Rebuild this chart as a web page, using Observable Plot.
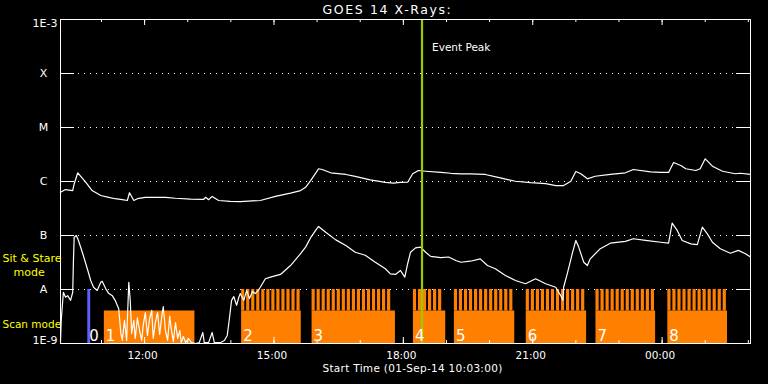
<!DOCTYPE html>
<html>
<head>
<meta charset="utf-8">
<script src="https://cdn.jsdelivr.net/npm/d3@7"></script>
<script src="https://cdn.jsdelivr.net/npm/@observablehq/plot@0.6"></script>
<style>
  html, body { margin: 0; padding: 0; background: #000; }
  svg { display: block; }
</style>
</head>
<body>
<script>
// ---- Data (times are UT clock times, 01-Sep-14 10:03 -> 02-Sep-14 02:03) ----
const startTime = "10:03";
const endTime = "02:03";
const chartTitle = "GOES 14 X-Rays:";
const xTitle = "Start Time (01-Sep-14 10:03:00)";

// GOES long channel (1-8 A), W/m^2
const longChannel = [
  ["10:03",6.3e-7],["10:10",7.1e-7],["10:20",6.8e-7],["10:22",9.0e-7],["10:27",1.45e-6],
  ["10:38",9.7e-7],["10:47",6.8e-7],["10:59",5.5e-7],["11:10",5.1e-7],["11:19",4.8e-7],
  ["11:29",4.6e-7],["11:36",4.45e-7],["11:39",6.2e-7],["11:45",4.45e-7],["11:50",4.8e-7],
  ["12:01",5.1e-7],["12:29",5.1e-7],["12:43",4.9e-7],["13:04",4.7e-7],["13:22",4.65e-7],
  ["13:25",5.1e-7],["13:29",4.6e-7],["13:34",5.3e-7],["13:43",4.45e-7],["13:59",4.3e-7],
  ["14:13",4.25e-7],["14:41",4.45e-7],["15:02",5.3e-7],["15:23",6.1e-7],["15:37",6.8e-7],
  ["15:44",7.8e-7],["15:51",1.04e-6],["15:59",1.49e-6],["16:02",1.72e-6],["16:07",1.67e-6],
  ["16:19",1.45e-6],["16:40",1.35e-6],["16:53",1.24e-6],["17:14",1.07e-6],["17:35",9.6e-7],
  ["17:46",9.3e-7],["17:56",9.6e-7],["18:06",9.7e-7],["18:13",1.39e-6],["18:21",1.6e-6],
  ["18:31",1.55e-6],["18:52",1.47e-6],["19:06",1.42e-6],["19:20",1.39e-6],["19:33",1.39e-6],
  ["19:54",1.35e-6],["20:15",1.17e-6],["20:36",1.01e-6],["20:57",9.5e-7],["21:18",9.1e-7],
  ["21:32",8.4e-7],["21:43",8.4e-7],["21:53",1.01e-6],["22:00",1.53e-6],["22:07",1.39e-6],
  ["22:16",1.12e-6],["22:27",1.25e-6],["22:48",1.36e-6],["23:09",1.45e-6],["23:20",1.67e-6],
  ["23:44",1.51e-6],["23:58",1.47e-6],["00:09",1.47e-6],["00:16",2.25e-6],["00:26",1.98e-6],
  ["00:33",1.72e-6],["00:47",1.6e-6],["00:53",1.72e-6],["01:00",2.63e-6],["01:10",1.92e-6],
  ["01:24",1.55e-6],["01:42",1.39e-6],["01:49",1.42e-6],["02:03",1.35e-6]
];

// GOES short channel (0.5-4 A), W/m^2
const shortChannel = [
  ["10:03",1.06e-9],["10:04",2.67e-9],["10:07",8.9e-9],["10:10",7.2e-9],["10:13",7.7e-9],
  ["10:17",6.3e-9],["10:20",8.9e-9],["10:21",3.44e-8],["10:22",9.3e-8],["10:25",1.0e-7],
  ["10:28",8.1e-8],["10:34",4.6e-8],["10:41",2.25e-8],["10:45",1.47e-8],["10:49",1.1e-8],
  ["10:54",9.6e-9],["10:59",1.36e-8],["11:01",1.42e-8],["11:06",1.03e-8],["11:10",8.5e-9],
  ["11:15",7.7e-9],["11:19",6.3e-9],["11:24",4.4e-9],["11:27",1.53e-9],["11:29",1.14e-9],
  ["11:32",2.67e-9],["11:35",1.14e-9],["11:38",1.36e-8],["11:40",6.3e-9],["11:42",1.53e-9],
  ["11:45",2.67e-9],["11:47",1.24e-9],["11:50",3.0e-9],["11:53",1.74e-9],["11:56",1.14e-9],
  ["11:58",2.15e-9],["12:01",3.75e-9],["12:04",1.41e-9],["12:07",2.9e-9],["12:10",4.1e-9],
  ["12:12",1.24e-9],["12:15",2.45e-9],["12:18",3.75e-9],["12:21",1.47e-9],["12:24",3.3e-9],
  ["12:26",4.8e-9],["12:29",1.74e-9],["12:32",1.14e-9],["12:35",3.2e-9],["12:37",1.9e-9],
  ["12:40",1.09e-9],["12:43",2.45e-9],["12:46",1.24e-9],["12:49",1.74e-9],["12:51",1.04e-9],
  ["12:54",1.35e-9],["12:57",1.04e-9],["13:01",1.24e-9],["13:05",1.04e-9],["13:11",1.0e-9],
  ["13:16",1.04e-9],["13:21",1.6e-9],["13:23",1.04e-9],["13:29",1.04e-9],["13:34",1.6e-9],
  ["13:37",1.04e-9],["13:46",1.04e-9],["13:51",1.14e-9],["13:55",1.41e-9],["13:58",2.9e-9],
  ["14:01",6.3e-9],["14:04",7.4e-9],["14:08",5.1e-9],["14:11",7.1e-9],["14:13",8.4e-9],
  ["14:18",6.3e-9],["14:22",9.6e-9],["14:26",6.8e-9],["14:30",9.2e-9],["14:34",8.4e-9],
  ["14:38",9.6e-9],["14:41",1.1e-8],["14:48",1.58e-8],["14:55",1.69e-8],["15:09",1.9e-8],
  ["15:23",2.78e-8],["15:37",4.6e-8],["15:44",6.1e-8],["15:51",9.1e-8],["15:58",1.24e-7],
  ["16:02",1.47e-7],["16:12",1.15e-7],["16:26",8.3e-8],["16:40",6.5e-8],["16:53",4.9e-8],
  ["17:07",4.3e-8],["17:21",3.2e-8],["17:35",2.42e-8],["17:42",1.95e-8],["17:49",1.9e-8],
  ["17:56",2.25e-8],["18:02",1.69e-8],["18:06",3.0e-8],["18:10",4.9e-8],["18:17",5.9e-8],
  ["18:24",6.1e-8],["18:31",4.9e-8],["18:38",4.1e-8],["18:52",3.9e-8],["19:03",4.0e-8],
  ["19:13",3.44e-8],["19:20",3.2e-8],["19:33",3.34e-8],["19:47",3.7e-8],["19:57",2.78e-8],
  ["20:08",2.42e-8],["20:22",1.82e-8],["20:36",1.47e-8],["20:50",1.28e-8],["21:04",1.58e-8],
  ["21:18",1.28e-8],["21:32",1.1e-8],["21:39",7.7e-9],["21:42",6.3e-9],["21:43",1.1e-8],
  ["21:48",1.95e-8],["21:55",4.6e-8],["22:00",8.1e-8],["22:04",6.1e-8],["22:11",3.2e-8],
  ["22:16",2.78e-8],["22:20",3.7e-8],["22:34",5.7e-8],["22:48",7.2e-8],["23:09",7.8e-8],
  ["23:20",8.7e-8],["23:37",8.1e-8],["23:58",7.5e-8],["00:09",7.2e-8],["00:14",1.69e-7],
  ["00:21",1.24e-7],["00:28",8.1e-8],["00:40",7.0e-8],["00:49",6.8e-8],["00:56",1.43e-7],
  ["01:03",1.07e-7],["01:10",7.5e-8],["01:21",5.7e-8],["01:35",4.7e-8],["01:46",5.3e-8],
  ["01:56",4.6e-8],["02:03",4.0e-8]
];

// Observing modes
const sitStare = {label: "0", start: "10:41", end: "10:45"};
const blockLabels = ["1", "2", "3", "4", "5", "6", "7", "8"];
const blockStarts = ["11:04", "14:15", "15:53", "18:14", "19:11", "20:51", "22:28", "00:08"];
const blockEnds   = ["13:10", "15:38", "17:49", "18:59", "20:35", "22:15", "23:51", "01:31"];
const blockRaster = [false, true, true, true, true, true, true, true];
const rasterCadenceMin = 7;     // one raster step every ~7 minutes
const rasterDwellMin = 4.4;     // raster step duration
const scanLevel = 4e-9;         // height of the scan-mode band
const sitLevel = 1e-8;          // height of the sit & stare band / raster steps

const eventPeak = "18:26";
const eventLabel = "Event Peak";

// Axis labels
const levelValues = [1e-9, 1e-8, 1e-7, 1e-6, 1e-5, 1e-4, 1e-3];
const levelLabels = ["1E-9", "A", "B", "C", "M", "X", "1E-3"];
const hourTicks = ["11:00","12:00","13:00","14:00","15:00","16:00","17:00","18:00","19:00",
                   "20:00","21:00","22:00","23:00","00:00","01:00","02:00"];
const labelTicks = ["12:00", "15:00", "18:00", "21:00", "00:00"];

// ---- Helpers ----
function t(s) {
  const [h, m] = s.split(":").map(Number);
  return new Date(Date.UTC(2014, 8, h < 10 ? 2 : 1, h, m));
}
const MIN = 60000;

const blocks = blockLabels.map((label, i) => ({
  label, x1: t(blockStarts[i]), x2: t(blockEnds[i]), raster: blockRaster[i]
}));
const stripes = [];
for (const b of blocks) {
  if (!b.raster) continue;
  const dur = (b.x2 - b.x1) / MIN;
  const n = Math.floor((dur + rasterCadenceMin - rasterDwellMin) / rasterCadenceMin);
  for (let k = 0; k < n; k++) {
    const s = +b.x1 + k * rasterCadenceMin * MIN;
    stripes.push({x1: new Date(s), x2: new Date(s + rasterDwellMin * MIN)});
  }
}
const gridLevels = levelValues.slice(1, -1);
const letterLevels = levelValues.map((v, i) => ({v, label: levelLabels[i]})).slice(1, -1);

const W = 768, H = 384;
const mL = 60, mR = 18, mT = 19, mB = 41;
const plotW = W - mL - mR, plotH = H - mT - mB;

const orange = "#ff8000";
const white = "#ffffff";
const font = "DejaVu Sans";

const chart = Plot.plot({
  width: W,
  height: H,
  marginLeft: mL,
  marginRight: mR,
  marginTop: mT,
  marginBottom: mB,
  style: {background: "#000", color: white, fontFamily: font, fontSize: "10px", overflow: "visible"},
  x: {type: "utc", domain: [t(startTime), t(endTime)], axis: null},
  y: {type: "log", domain: [levelValues[0], levelValues[levelValues.length - 1]], axis: null},
  marks: [
    // dotted level grid
    Plot.ruleY(gridLevels, {stroke: white, strokeDasharray: "1,5", strokeWidth: 1}),
    // scan-mode blocks
    Plot.rect(blocks, {x1: "x1", x2: "x2", y1: levelValues[0], y2: scanLevel, fill: orange}),
    Plot.rect(stripes, {x1: "x1", x2: "x2", y1: scanLevel, y2: sitLevel, fill: orange}),
    // sit & stare
    Plot.rect([sitStare], {x1: d => t(d.start), x2: d => t(d.end), y1: levelValues[0], y2: sitLevel, fill: "#6060ff"}),
    // GOES curves
    Plot.line(shortChannel, {x: d => t(d[0]), y: d => d[1], stroke: white, strokeWidth: 1.2}),
    Plot.line(longChannel, {x: d => t(d[0]), y: d => d[1], stroke: white, strokeWidth: 1.2}),
    // event peak
    Plot.ruleX([t(eventPeak)], {stroke: "#99cc00", strokeWidth: 2.2}),
    Plot.text([eventLabel], {x: () => t(eventPeak), frameAnchor: "top", dy: 24, dx: 10, textAnchor: "start",
      text: d => d, fill: white, fontSize: 10.5, fontFamily: font}),
    // block numbers
    Plot.text(blocks, {x: "x1", text: "label", frameAnchor: "bottom", dx: 1.5, dy: -3, textAnchor: "start",
      lineAnchor: "bottom", fill: white, fontSize: 15, fontFamily: font}),
    Plot.text([sitStare], {x: d => t(d.start), text: "label", frameAnchor: "bottom", dx: 1.5, dy: -3,
      textAnchor: "start", lineAnchor: "bottom", fill: white, fontSize: 15, fontFamily: font}),
    // frame and ticks
    Plot.frame({stroke: white, strokeWidth: 1}),
    Plot.ruleY(levelValues, {stroke: white, insetRight: plotW - 14}),
    Plot.ruleY(levelValues, {stroke: white, insetLeft: plotW - 14}),
    Plot.ruleX(hourTicks.map(t), {stroke: white, insetTop: plotH - 3}),
    Plot.ruleX(hourTicks.map(t), {stroke: white, insetBottom: plotH - 3}),
    Plot.ruleX(labelTicks.map(t), {stroke: white, insetTop: plotH - 6}),
    Plot.ruleX(labelTicks.map(t), {stroke: white, insetBottom: plotH - 6}),
    // x tick labels
    Plot.text(labelTicks, {x: t, text: d => d, frameAnchor: "bottom", dy: 8, dx: -2, lineAnchor: "top",
      fill: white, fontSize: 10.5, fontFamily: font}),
    // y labels
    Plot.text([levelLabels[levelLabels.length - 1]], {y: levelValues[levelValues.length - 1], text: d => d,
      frameAnchor: "left", dx: -3, textAnchor: "end", lineAnchor: "top", fill: white, fontSize: 11, fontFamily: font}),
    Plot.text([levelLabels[0]], {y: levelValues[0], text: d => d,
      frameAnchor: "left", dx: -3, textAnchor: "end", lineAnchor: "bottom", fill: white, fontSize: 11, fontFamily: font}),
    Plot.text(letterLevels, {y: "v", text: "label", frameAnchor: "left", dx: -17, textAnchor: "middle",
      lineAnchor: "middle", fill: white, fontSize: 11, fontFamily: font}),
    // mode annotations
    Plot.text(["Sit & Stare"], {text: d => d, frameAnchor: "bottom-left", dx: -58, dy: -85, textAnchor: "start",
      lineAnchor: "middle", fill: "#ffff00", fontSize: 11, fontFamily: font}),
    Plot.text(["mode"], {text: d => d, frameAnchor: "bottom-left", dx: -47, dy: -71, textAnchor: "start",
      lineAnchor: "middle", fill: "#ffff00", fontSize: 11, fontFamily: font}),
    Plot.text(["Scan mode"], {text: d => d, frameAnchor: "bottom-left", dx: -58, dy: -19, textAnchor: "start",
      lineAnchor: "middle", fill: "#ffff00", fontSize: 10.5, fontFamily: font}),
    // titles
    Plot.text([chartTitle], {text: d => d, frameAnchor: "top", dy: -10, dx: -18, lineAnchor: "middle",
      fill: white, fontSize: 12.5, fontFamily: font}),
    Plot.text([xTitle], {text: d => d, frameAnchor: "bottom", dy: 25, dx: 7, lineAnchor: "middle",
      fill: white, fontSize: 10.5, fontFamily: font})
  ]
});

d3.select(chart).selectAll("text")
  .filter(function() { return this.textContent === chartTitle; })
  .style("letter-spacing", "1.6px");
d3.select(chart).selectAll("text")
  .filter(function() { return this.textContent === xTitle; })
  .style("letter-spacing", "0.3px");

document.body.appendChild(chart);
</script>
</body>
</html>
